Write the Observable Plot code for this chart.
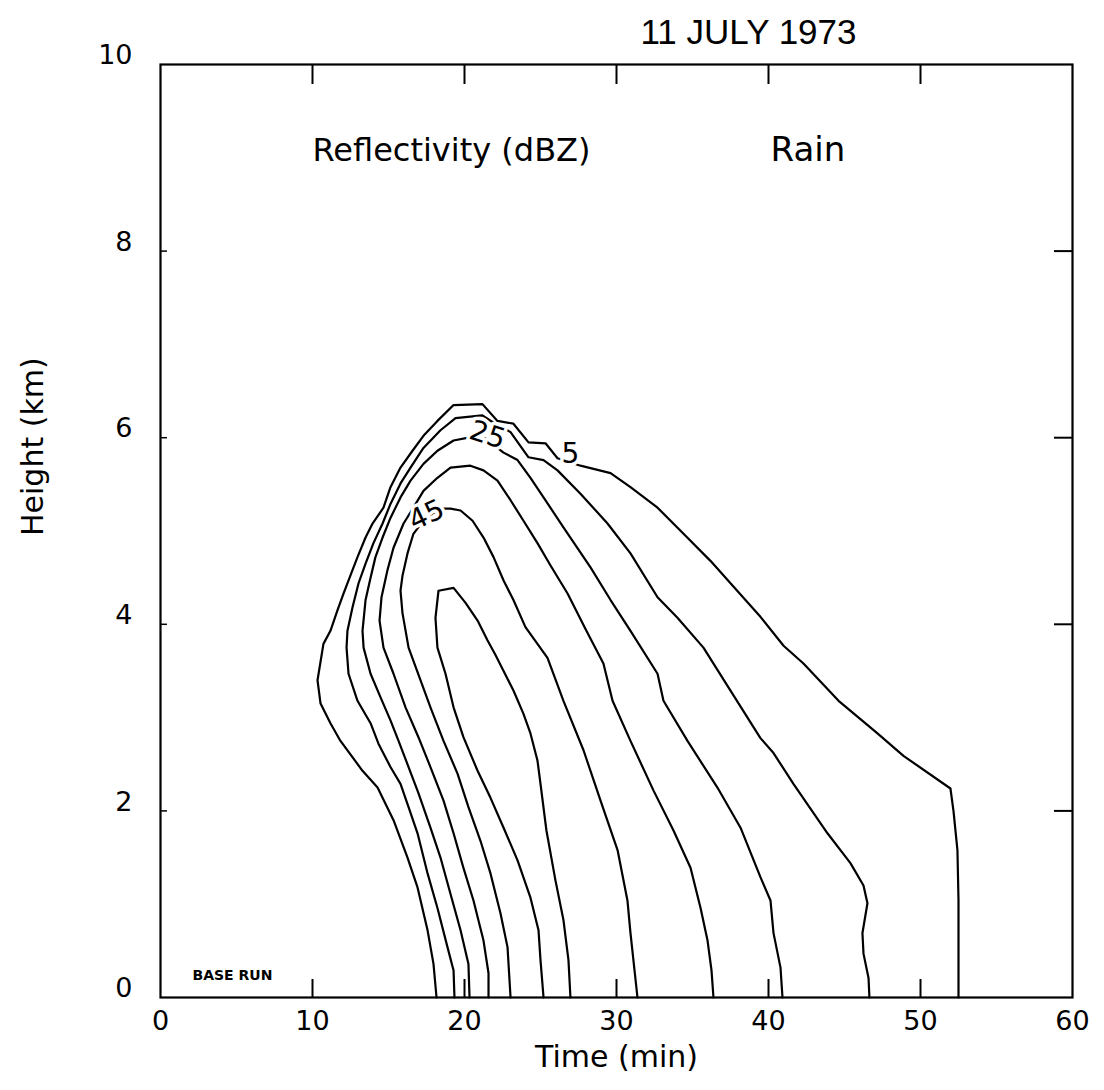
<!DOCTYPE html>
<html>
<head>
<meta charset="utf-8">
<script src="https://cdn.jsdelivr.net/npm/d3@7"></script>
<script src="https://cdn.jsdelivr.net/npm/@observablehq/plot@0.6"></script>
<style>
  body { margin: 0; background: #fff; }
  #chart svg { display: block; }
</style>
</head>
<body>
<div id="chart"></div>
<script>
// Axis ticks
const timeTicks = [0, 10, 20, 30, 40, 50, 60];
const heightTicks = [0, 2, 4, 6, 8, 10];
const innerTimeTicks = [10, 20, 30, 40, 50];
const innerHeightTicks = [2, 4, 6, 8];

// Rain reflectivity contour levels (dBZ)
const levels = [5, 15, 25, 35, 45, 55];

// Each contour: [time (min), height (km)] from the left leg at the ground,
// over the top, and down the right leg to the ground.
const dbz5 = [
  [18.16, 0], [17.96, 0.36], [17.57, 0.72], [16.91, 1.18], [16.25, 1.50], [15.33, 1.90],
  [14.28, 2.25], [13.29, 2.43], [11.84, 2.75], [11.18, 2.94], [10.53, 3.15], [10.33, 3.40],
  [10.72, 3.79], [11.18, 3.93], [11.64, 4.15], [12.04, 4.33], [12.63, 4.58], [12.96, 4.72],
  [13.49, 4.93], [13.95, 5.08], [14.67, 5.25], [15.13, 5.47], [15.79, 5.68], [16.58, 5.86],
  [17.30, 6.02], [18.22, 6.18], [19.28, 6.35], [21.18, 6.36], [22.17, 6.18], [23.22, 6.15],
  [24.21, 5.95], [25.33, 5.94], [26.12, 5.78], [27.63, 5.70], [29.61, 5.62], [30.92, 5.47],
  [32.70, 5.25], [34.41, 4.97], [36.18, 4.68], [37.50, 4.44], [39.47, 4.08], [40.99, 3.77],
  [42.30, 3.58], [44.61, 3.18], [47.17, 2.83], [48.88, 2.59], [51.97, 2.24], [52.17, 2.00],
  [52.43, 1.58], [52.50, 1.04], [52.50, 0]
];
const dbz15 = [
  [19.34, 0], [19.28, 0.29], [18.88, 0.54], [18.22, 0.96], [17.57, 1.33], [16.91, 1.76],
  [16.32, 2.04], [15.79, 2.29], [15.13, 2.47], [14.34, 2.72], [13.82, 2.94], [12.96, 3.18],
  [12.37, 3.47], [12.24, 3.75], [12.30, 3.93], [12.63, 4.18], [13.03, 4.44], [13.49, 4.65],
  [14.01, 4.87], [14.61, 5.08], [15.13, 5.29], [15.79, 5.51], [16.45, 5.68], [17.30, 5.89],
  [18.42, 6.08], [19.41, 6.21], [21.18, 6.24], [21.91, 6.16], [23.03, 6.06], [24.21, 5.79],
  [25.20, 5.76], [26.12, 5.65], [27.63, 5.40], [29.41, 5.08], [30.92, 4.76], [32.70, 4.29],
  [34.01, 4.07], [35.72, 3.75], [37.50, 3.29], [39.47, 2.78], [40.33, 2.62], [41.64, 2.29],
  [43.88, 1.76], [45.39, 1.44], [46.25, 1.20], [46.51, 1.01], [46.18, 0.69], [46.25, 0.47],
  [46.58, 0.21], [46.64, 0]
];
const dbz25 = [
  [20.33, 0], [20.26, 0.36], [19.74, 0.72], [19.08, 1.11], [18.42, 1.50], [17.76, 1.82],
  [16.97, 2.19], [16.32, 2.47], [15.66, 2.75], [15.13, 2.97], [14.47, 3.22], [13.82, 3.47],
  [13.36, 3.75], [13.29, 3.93], [13.49, 4.26], [13.82, 4.50], [14.14, 4.72], [14.61, 4.93],
  [15.13, 5.14], [15.79, 5.36], [16.45, 5.54], [17.30, 5.72], [18.22, 5.86], [19.28, 5.97],
  [20.26, 6.00], [21.38, 5.99], [22.57, 5.84], [23.49, 5.76], [24.34, 5.57], [25.20, 5.36],
  [26.51, 5.04], [28.29, 4.61], [29.61, 4.26], [30.92, 3.93], [32.70, 3.47], [33.09, 3.18],
  [34.67, 2.75], [36.64, 2.25], [38.16, 1.82], [39.47, 1.29], [40.13, 1.04], [40.33, 0.69],
  [40.79, 0.32], [40.92, 0]
];
const dbz35 = [
  [21.58, 0], [21.58, 0.26], [21.25, 0.61], [20.59, 1.04], [19.93, 1.39], [19.28, 1.76],
  [18.62, 2.11], [17.76, 2.47], [16.97, 2.79], [16.12, 3.11], [15.33, 3.47], [14.67, 3.75],
  [14.41, 4.04], [14.54, 4.29], [14.93, 4.58], [15.33, 4.82], [15.99, 5.08], [16.64, 5.25],
  [17.30, 5.43], [18.22, 5.57], [19.08, 5.68], [20.39, 5.70], [21.25, 5.65], [22.17, 5.54],
  [23.03, 5.33], [23.88, 5.11], [24.80, 4.87], [25.66, 4.63], [26.78, 4.33], [27.96, 3.95],
  [29.14, 3.58], [29.74, 3.18], [30.92, 2.75], [32.43, 2.22], [33.75, 1.79], [34.87, 1.39],
  [35.53, 0.96], [35.99, 0.61], [36.25, 0.29], [36.38, 0]
];
const dbz45 = [
  [23.03, 0], [22.83, 0.54], [22.37, 0.90], [21.71, 1.33], [21.05, 1.68], [20.26, 2.04],
  [19.54, 2.40], [18.62, 2.75], [17.76, 3.11], [17.11, 3.40], [16.32, 3.75], [15.92, 4.12],
  [15.79, 4.36], [15.92, 4.52], [16.25, 4.76], [16.64, 4.97], [17.43, 5.14], [18.42, 5.24],
  [19.08, 5.24], [19.74, 5.22], [20.53, 5.11], [21.25, 4.93], [21.91, 4.72], [22.57, 4.47],
  [23.22, 4.26], [24.01, 3.97], [25.46, 3.64], [26.51, 3.18], [27.83, 2.65], [28.95, 2.11],
  [30.07, 1.58], [30.72, 1.04], [30.92, 0.69], [31.38, 0]
];
const dbz55 = [
  [25.20, 0], [25.00, 0.40], [24.87, 0.72], [24.34, 1.07], [23.49, 1.47], [22.57, 1.82],
  [21.71, 2.14], [20.86, 2.43], [19.93, 2.79], [19.28, 3.11], [18.75, 3.47], [18.22, 3.75],
  [18.09, 4.07], [18.22, 4.26], [18.29, 4.36], [19.28, 4.39], [20.07, 4.23], [20.86, 4.04],
  [21.51, 3.83], [22.04, 3.67], [22.57, 3.50], [23.22, 3.29], [23.88, 3.04], [24.34, 2.83],
  [24.80, 2.54], [25.00, 2.29], [25.39, 1.79], [25.99, 1.25], [26.51, 0.83], [26.84, 0.40],
  [26.97, 0]
];

// Inline contour labels (level, time, height)
const labelLevels = [5, 25, 45];
const labelTimes = [26.97, 21.51, 17.50];
const labelHeights = [5.83, 6.03, 5.17];

const contours = [dbz5, dbz15, dbz25, dbz35, dbz45, dbz55];
const rows = contours.flatMap((pts, i) =>
  pts.map(([t, h], j) => ({level: levels[i], order: j, t, h}))
);
const labels = labelLevels.map((level, i) => ({level, t: labelTimes[i], h: labelHeights[i]}));
const labelAngle = {5: 0, 25: 18, 45: -25};

const W = 1104, H = 1090;
const mL = 160, mR = 32, mT = 64, mB = 93;
const fw = W - mL - mR, fh = H - mT - mB;
const sans = "DejaVu Sans";

const chart = Plot.plot({
  width: W,
  height: H,
  marginLeft: mL,
  marginRight: mR,
  marginTop: mT,
  marginBottom: mB,
  x: {domain: [0, 60]},
  y: {domain: [0, 10]},
  style: {fontFamily: sans, background: "white", color: "black", overflow: "visible"},
  marks: [
    Plot.line(rows, {x: "t", y: "h", z: "level", stroke: "black", strokeWidth: 2.2, strokeLinejoin: "round"}),
    Plot.text(labels, {
      x: "t", y: "h", text: d => String(d.level),
      rotate: d => labelAngle[d.level],
      fontSize: 28, fill: "black", stroke: "white", strokeWidth: 7, paintOrder: "stroke"
    }),
    Plot.frame({stroke: "black", strokeWidth: 2.2}),
    // inward ticks on all four sides
    Plot.tickX(innerTimeTicks, {x: d => d, insetTop: fh - 18, strokeWidth: 2}),
    Plot.tickX(innerTimeTicks, {x: d => d, insetBottom: fh - 20, strokeWidth: 2}),
    Plot.tickY(innerHeightTicks, {y: d => d, insetLeft: fw - 18, strokeWidth: 2}),
    Plot.tickY(innerHeightTicks, {y: d => d, insetRight: fw - 7, strokeWidth: 1.5}),
    Plot.axisX(timeTicks, {anchor: "bottom", tickSize: 0, tickPadding: 13, fontSize: 27, tickFormat: d => String(d), label: null}),
    Plot.axisY(heightTicks, {anchor: "left", tickSize: 0, tickPadding: 28, fontSize: 27, dy: -9, tickFormat: d => String(d), label: null}),
    // titles and annotations
    Plot.text(["11 JULY 1973"], {
      frameAnchor: "top-left", dx: 480, dy: -21, textAnchor: "start", lineAnchor: "bottom",
      fontSize: 35, fontFamily: "Liberation Sans"
    }),
    Plot.text(["Reflectivity (dBZ)"], {
      frameAnchor: "top-left", dx: 152, dy: 96, textAnchor: "start", lineAnchor: "bottom", fontSize: 32
    }),
    Plot.text(["Rain"], {
      frameAnchor: "top-left", dx: 610, dy: 96, textAnchor: "start", lineAnchor: "bottom", fontSize: 34
    }),
    Plot.text(["BASE RUN"], {
      frameAnchor: "bottom-left", dx: 32, dy: -18, textAnchor: "start", lineAnchor: "bottom",
      fontSize: 14, fontWeight: "bold"
    }),
    Plot.text(["Time (min)"], {frameAnchor: "bottom", dy: 69, lineAnchor: "bottom", fontSize: 30}),
    Plot.text(["Height (km)"], {frameAnchor: "left", dx: -127, dy: 5, rotate: -90, fontSize: 30})
  ]
});

document.getElementById("chart").appendChild(chart);
</script>
</body>
</html>
